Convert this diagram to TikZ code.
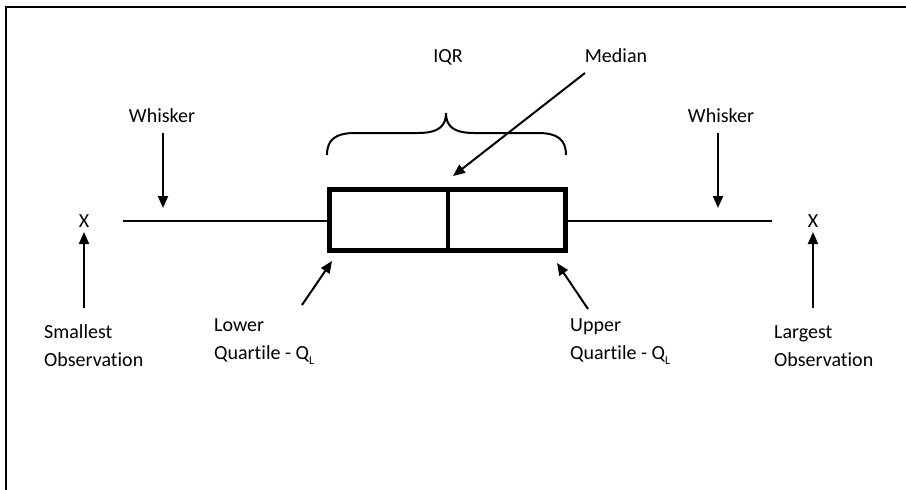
\documentclass[tikz,border=0pt]{standalone}
\usepackage{fontspec}
\setmainfont[Ligatures=NoCommon]{Carlito}
\usetikzlibrary{arrows.meta}
\newcommand{\subL}{\raisebox{-0.28em}{\fontsize{12}{12}\selectfont L}}
\begin{document}
\begin{tikzpicture}[x=1pt,y=-1pt,
  lbl/.style={font=\fontsize{20}{28}\selectfont, inner sep=0pt},
  lblL/.style={lbl, align=left, anchor=base west},
  arr/.style={line width=2pt, -{Triangle[length=12pt,width=10pt]}},
  whisk/.style={line width=2.5pt},
  boxline/.style={line width=4.5pt}]
\useasboundingbox (0,0) rectangle (906,490);
% frame
\draw[line width=2.5pt] (6,490) -- (6,7) -- (906,7);
% box
\coordinate (bl) at (329.5,189.5);
\coordinate (br) at (565.5,250.5);
\draw[boxline] (bl) rectangle (br);
\draw[line width=4pt] (448,189.5) -- (448,250.5);
% whiskers
\coordinate (wl1) at (123,221);
\coordinate (wl2) at (327.5,221);
\coordinate (wr1) at (567.5,221);
\coordinate (wr2) at (772,221);
\draw[whisk] (wl1) -- (wl2);
\draw[whisk] (wr1) -- (wr2);
% X marks
\node[lbl, anchor=base] (xl) at (84,227) {X};
\node[lbl, anchor=base] (xr) at (813,227) {X};
% brace
\draw[line width=2pt] (327,155) .. controls (327,140) and (335,133) .. (355,133)
  -- (418,133) .. controls (440,133) and (446,125) .. (446,113)
  .. controls (446,125) and (452,133) .. (474,133)
  -- (538,133) .. controls (558,133) and (566,140) .. (566,155);
% top labels
\node[lbl, anchor=base] (iqr) at (448,62) {IQR};
\node[lbl, anchor=base] (med) at (616,62) {Median};
\node[lbl, anchor=base] (whl) at (162,122) {Whisker};
\node[lbl, anchor=base] (whr) at (721,122) {Whisker};
% arrows
\coordinate (medtail) at (585,73);
\coordinate (medtip) at (453,176);
\draw[arr] (medtail) -- (medtip);
\coordinate (wlt) at (163,133);
\coordinate (wlh) at (163,208);
\draw[arr] (wlt) -- (wlh);
\coordinate (wrt) at (718,133);
\coordinate (wrh) at (718,208);
\draw[arr] (wrt) -- (wrh);
\coordinate (slt) at (84,308);
\coordinate (slh) at (84,232);
\draw[arr] (slt) -- (slh);
\coordinate (lgt) at (813,308);
\coordinate (lgh) at (813,232);
\draw[arr] (lgt) -- (lgh);
\coordinate (lqt) at (302,305);
\coordinate (lqh) at (332,261);
\draw[arr] (lqt) -- (lqh);
\coordinate (uqt) at (588,309);
\coordinate (uqh) at (557,263);
\draw[arr] (uqt) -- (uqh);
% bottom labels
\node[lblL] (small) at (44,366) {Smallest\\Observation};
\node[lblL] (lower) at (214,359) {Lower\\Quartile - Q\subL};
\node[lblL] (upper) at (570,359) {Upper\\Quartile - Q\subL};
\node[lblL] (large) at (774,366) {Largest\\Observation};
\end{tikzpicture}
\end{document}
